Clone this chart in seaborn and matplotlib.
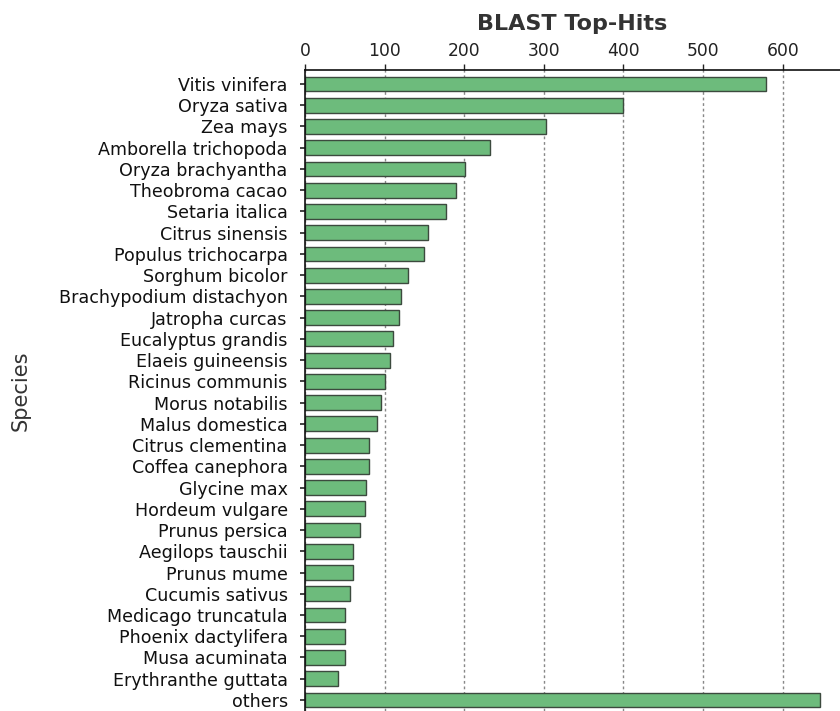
import matplotlib
matplotlib.use("Agg")
import matplotlib.pyplot as plt
import seaborn as sns
import pandas as pd

species = [
    "Vitis vinifera", "Oryza sativa", "Zea mays", "Amborella trichopoda",
    "Oryza brachyantha", "Theobroma cacao", "Setaria italica", "Citrus sinensis",
    "Populus trichocarpa", "Sorghum bicolor", "Brachypodium distachyon",
    "Jatropha curcas", "Eucalyptus grandis", "Elaeis guineensis",
    "Ricinus communis", "Morus notabilis", "Malus domestica",
    "Citrus clementina", "Coffea canephora", "Glycine max", "Hordeum vulgare",
    "Prunus persica", "Aegilops tauschii", "Prunus mume", "Cucumis sativus",
    "Medicago truncatula", "Phoenix dactylifera", "Musa acuminata",
    "Erythranthe guttata", "others",
]
hits = [
    579, 400, 303, 233, 201, 190, 177, 154, 150, 129, 120, 118, 111, 107,
    101, 96, 90, 81, 80, 76, 75, 69, 60, 60, 56, 50, 50, 50, 41, 647,
]
x_ticks = [0, 100, 200, 300, 400, 500, 600]

df = pd.DataFrame({"Species": species, "BLAST Top-Hits": hits})

sns.set_theme(style="white")
plt.rcParams["font.family"] = ["DejaVu Sans"]

W, H = 840, 711
fig = plt.figure(figsize=(W / 100, H / 100), dpi=100)
left_px, top_px, bottom_px = 305, 70, 710.6
ax_w = W - left_px
ax = fig.add_axes([left_px / W, (H - bottom_px) / H,
                   ax_w / W, (bottom_px - top_px) / H])

sns.barplot(data=df, y="Species", x="BLAST Top-Hits", orient="h",
            color="#6dbb7c", saturation=1, edgecolor="#3c4a3e",
            linewidth=1.0, width=0.7, ax=ax)

ax.set_xlim(0, 672)
ax.set_ylim(len(species) - 0.5, -0.66)
ax.set_xticks(x_ticks)
ax.xaxis.set_ticks_position("top")
ax.xaxis.set_label_position("top")
ax.set_xlabel("BLAST Top-Hits", fontsize=16, fontweight="bold",
              color="#333333", labelpad=9)
ax.set_ylabel("Species", fontsize=15, color="#333333")
ax.yaxis.set_label_coords((31 - left_px) / ax_w, 0.5)

ax.tick_params(axis="x", top=True, bottom=False, direction="out", length=4,
               width=1, color="#222222", labelsize=12.3, labelcolor="#222222",
               pad=3)
ax.tick_params(axis="y", left=True, direction="out", length=3.5, width=1.2,
               color="#222222", labelsize=12.6, labelcolor="#111111", pad=9)

ax.set_axisbelow(True)
ax.grid(axis="x", linestyle=(0, (2, 2)), color="#888888", linewidth=1)
ax.grid(axis="y", visible=False)

for side in ("right", "bottom"):
    ax.spines[side].set_visible(False)
for side in ("top", "left"):
    ax.spines[side].set_color("#111111")
    ax.spines[side].set_linewidth(1.2)

fig.savefig("out.png", dpi=100)
